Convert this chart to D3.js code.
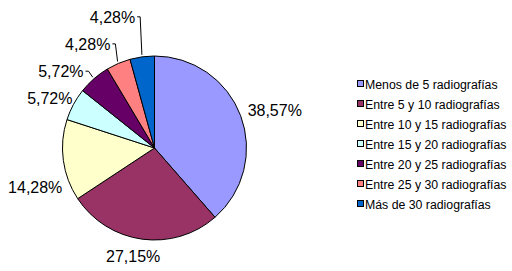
<!DOCTYPE html>
<meta charset="utf-8">
<script src="https://d3js.org/d3.v7.min.js"></script>
<style>
  body { margin: 0; background: #fff; }
  text { font-family: "Liberation Sans", Arial, sans-serif; fill: #000; }
</style>
<div id="vis"></div>
<script>

var width = 512,
    height = 271,
    radius = 92

// data
var categories = ["Menos de 5 radiografías", "Entre 5 y 10 radiografías", "Entre 10 y 15 radiografías",
                  "Entre 15 y 20 radiografías", "Entre 20 y 25 radiografías", "Entre 25 y 30 radiografías",
                  "Más de 30 radiografías"]
var values = [38.57, 27.15, 14.28, 5.72, 5.72, 4.28, 4.28]
var colors = ["#9999FF", "#993366", "#FFFFCC", "#CCFFFF", "#660066", "#FF8080", "#0066CC"]

// label nudges from the point on the rim (dx, dy, anchor, leader line?)
var labelShift = [
  [7, 0, "start", false],
  [-9, 23, "middle", false],
  [-1, 33, "end", false],
  [-1, 0, "end", false],
  [-10.5, -1.5, "end", true],
  [-8, -13.5, "end", true],
  [-7, -34, "end", true]
]

var svg = d3.select("#vis").append("svg")
    .attr("width", width)
    .attr("height", height)

var g = svg.append("g")
    .attr("transform", "translate(154.5,148)")

var color = d3.scaleOrdinal().domain(categories).range(colors)

var pie = d3.pie().sort(null).value(function(d) { return d.value })
var slices = pie(categories.map(function(c, i) { return {key: c, value: values[i], i: i} }))

var arc = d3.arc().innerRadius(0).outerRadius(radius)
var rim = d3.arc().innerRadius(radius).outerRadius(radius)
var rimOut = d3.arc().innerRadius(radius + 2).outerRadius(radius + 2)

g.selectAll("path.slice")
  .data(slices)
  .enter().append("path")
    .attr("class", "slice")
    .attr("d", arc)
    .attr("fill", function(d) { return color(d.data.key) })
    .attr("stroke", "#000")
    .attr("stroke-width", 1)
    .attr("stroke-linejoin", "round")

var fmt = function(v) { return d3.format(".2f")(v).replace(".", ",") + "%" }

var labels = g.selectAll("g.lab")
  .data(slices)
  .enter().append("g")
    .attr("class", "lab")

labels.append("text")
    .attr("x", function(d) { return rim.centroid(d)[0] + labelShift[d.data.i][0] })
    .attr("y", function(d) { return rim.centroid(d)[1] + labelShift[d.data.i][1] })
    .attr("text-anchor", function(d) { return labelShift[d.data.i][2] })
    .style("font-size", "16px")
    .text(function(d) { return fmt(d.data.value) })

labels.filter(function(d) { return labelShift[d.data.i][3] })
  .append("polyline")
    .attr("fill", "none")
    .attr("stroke", "#000")
    .attr("stroke-width", 1)
    .attr("points", function(d) {
      var p = rim.centroid(d), s = labelShift[d.data.i]
      var x0 = p[0] + s[0] + 2, y0 = p[1] + s[1] - 6
      var e = rimOut.centroid(d)
      return [[x0, y0], [x0 + 3, y0], e].join(" ")
    })

// legend
var ly = d3.scalePoint().domain(categories).range([84, 204])

var leg = svg.append("g").selectAll("g")
  .data(categories)
  .enter().append("g")
    .attr("transform", function(d) { return "translate(357," + ly(d) + ")" })

leg.append("rect")
    .attr("x", 0.5).attr("y", -3.5)
    .attr("width", 6).attr("height", 6)
    .attr("fill", function(d) { return color(d) })
    .attr("stroke", "#000")
    .attr("stroke-width", 1)

leg.append("text")
    .attr("x", 8)
    .attr("y", 4.5)
    .style("font-size", "12.3px")
    .text(function(d) { return d })

</script>
